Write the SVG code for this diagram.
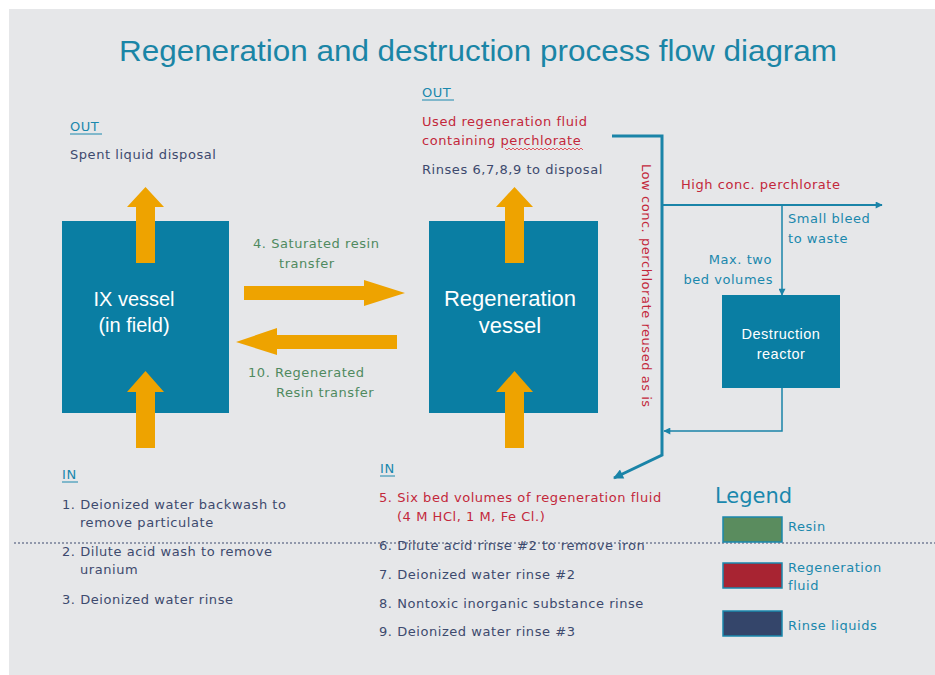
<svg xmlns="http://www.w3.org/2000/svg" width="935" height="675" viewBox="0 0 935 675">
<defs>
<style>
.t{font-family:"DejaVu Sans","Liberation Sans",sans-serif;font-size:13px;letter-spacing:0.55px}
.dark{fill:#3d4a6e}
.red{fill:#c3283b}
.teal{fill:#1a88ad}
.green{fill:#4f8a5f}
.wh{fill:#ffffff;font-family:"Liberation Sans",Arial,sans-serif}
.box{fill:#0a7ea3}
.arr{fill:#eea300}
.ln{fill:none;stroke:#1a84a8}
</style>
<marker id="ah" viewBox="0 0 10 10" refX="9" refY="5" markerWidth="8" markerHeight="7" orient="auto" markerUnits="userSpaceOnUse">
<path d="M0,0 L10,5 L0,10 z" fill="#1a84a8"/>
</marker>
<marker id="ahb" viewBox="0 0 10 10" refX="9" refY="5" markerWidth="13" markerHeight="10" orient="auto" markerUnits="userSpaceOnUse">
<path d="M0,0 L10,5 L0,10 z" fill="#1a84a8"/>
</marker>
</defs>
<rect x="0" y="0" width="935" height="675" fill="#ffffff"/>
<rect x="9" y="9" width="926" height="666" fill="#e6e7e9"/>
<text x="478" y="61" text-anchor="middle" font-family="Liberation Sans, Arial, sans-serif" font-size="29" fill="#1a85a6" textLength="718" lengthAdjust="spacingAndGlyphs">Regeneration and destruction process flow diagram</text>

<g id="ix-vessel">
<rect class="box" x="62" y="221" width="167" height="192"/>
<text class="wh" x="134" y="306" text-anchor="middle" font-size="20">IX vessel</text>
<text class="wh" x="134" y="332" text-anchor="middle" font-size="20">(in field)</text>
</g>
<g id="regen-vessel">
<rect class="box" x="429" y="221" width="169" height="192"/>
<text class="wh" x="510" y="306" text-anchor="middle" font-size="22">Regeneration</text>
<text class="wh" x="510" y="333" text-anchor="middle" font-size="22">vessel</text>
</g>
<g id="destruction-reactor">
<rect class="box" x="722" y="295" width="118" height="93"/>
<text class="wh" x="781" y="339" text-anchor="middle" font-size="14.5" letter-spacing="0.5">Destruction</text>
<text class="wh" x="781" y="359" text-anchor="middle" font-size="14.5" letter-spacing="0.5">reactor</text>
</g>

<g id="flow-arrows">
<polygon class="arr" points="136,263 136,207 127,207 145.5,187 164,207 155,207 155,263"/>
<polygon class="arr" points="136,448 136,392 127,392 145.5,371 164,392 155,392 155,448"/>
<polygon class="arr" points="505,263 505,207 496,207 514.5,187 533,207 524,207 524,263"/>
<polygon class="arr" points="505,448 505,392 496,392 514.5,371 533,392 524,392 524,448"/>
<polygon class="arr" points="244,286 364,286 364,280 405,293 364,306 364,300 244,300"/>
<polygon class="arr" points="397,335 277,335 277,328 236,342 277,355 277,349 397,349"/>
</g>

<g id="connectors">
<polyline class="ln" stroke-width="3" points="612,136 662,136 662,455 614,478" marker-end="url(#ahb)"/>
<line class="ln" stroke-width="2" x1="662" y1="205" x2="882" y2="205" marker-end="url(#ah)"/>
<line class="ln" stroke-width="1.5" x1="782" y1="205" x2="782" y2="295" marker-end="url(#ah)"/>
<polyline class="ln" stroke-width="1.5" points="782,388 782,431 664,431" marker-end="url(#ah)"/>
</g>

<g id="labels">
<text class="t teal" x="70" y="131" font-size="14">OUT</text>
<line x1="70" y1="134" x2="102" y2="134" stroke="#1a88ad" stroke-width="1"/>
<text class="t dark" x="70" y="159">Spent liquid disposal</text>

<text class="t teal" x="422" y="97" font-size="14">OUT</text>
<line x1="422" y1="100" x2="454" y2="100" stroke="#1a88ad" stroke-width="1"/>
<text class="t red" x="422" y="126">Used regeneration fluid</text>
<text class="t red" x="422" y="145">containing perchlorate</text>
<path d="M505,148 l2,2 l2,-2 l2,2 l2,-2 l2,2 l2,-2 l2,2 l2,-2 l2,2 l2,-2 l2,2 l2,-2 l2,2 l2,-2 l2,2 l2,-2 l2,2 l2,-2 l2,2 l2,-2 l2,2 l2,-2 l2,2 l2,-2 l2,2 l2,-2 l2,2 l2,-2 l2,2 l2,-2 l2,2 l2,-2 l2,2 l2,-2 l2,2 l2,-2 l2,2 l2,-2 l2,2" fill="none" stroke="#e0303a" stroke-width="0.8"/>
<text class="t dark" x="422" y="174">Rinses 6,7,8,9 to disposal</text>

<text class="t green" x="253" y="248">4.  Saturated resin</text>
<text class="t green" x="279" y="268">transfer</text>
<text class="t green" x="248" y="377">10. Regenerated</text>
<text class="t green" x="276" y="397">Resin transfer</text>

<text class="t red" transform="translate(642,164) rotate(90)">Low conc. perchlorate reused as is</text>
<text class="t red" x="681" y="189">High conc. perchlorate</text>
<text class="t teal" x="788" y="223">Small bleed</text>
<text class="t teal" x="788" y="243">to waste</text>
<text class="t teal" x="772" y="264" text-anchor="end">Max. two</text>
<text class="t teal" x="773" y="284" text-anchor="end">bed volumes</text>

<text class="t teal" x="62" y="479" font-size="13">IN</text>
<line x1="62" y1="482" x2="78" y2="482" stroke="#1a88ad" stroke-width="1"/>
<text class="t dark" x="62" y="509">1. Deionized water backwash to</text>
<text class="t dark" x="80" y="527">remove particulate</text>
<text class="t dark" x="62" y="556">2. Dilute acid wash to remove</text>
<text class="t dark" x="80" y="574">uranium</text>
<text class="t dark" x="62" y="604">3. Deionized water rinse</text>

<text class="t teal" x="380" y="473" font-size="13">IN</text>
<line x1="380" y1="476" x2="395" y2="476" stroke="#1a88ad" stroke-width="1"/>
<text class="t red" x="379" y="502">5. Six bed volumes of regeneration fluid</text>
<text class="t red" x="397" y="521">(4 M HCl, 1 M, Fe Cl.)</text>
<text class="t dark" x="379" y="550">6. Dilute acid rinse #2 to remove iron</text>
<text class="t dark" x="379" y="579">7. Deionized water rinse #2</text>
<text class="t dark" x="379" y="608">8. Nontoxic inorganic substance rinse</text>
<text class="t dark" x="379" y="636">9. Deionized water rinse #3</text>
</g>

<line x1="14" y1="543" x2="935" y2="543" stroke="#3d4a6e" stroke-width="1.2" stroke-dasharray="2,2"/>

<g id="legend">
<text x="715" y="503" font-family="DejaVu Sans, sans-serif" font-size="21" fill="#1a88ad">Legend</text>
<rect x="723" y="517" width="59" height="25" fill="#5a8c5e" stroke="#1a88ad" stroke-width="1.5"/>
<rect x="723" y="563" width="59" height="25" fill="#a82432" stroke="#1a88ad" stroke-width="1.5"/>
<rect x="723" y="611" width="59" height="25" fill="#34456a" stroke="#1a88ad" stroke-width="1.5"/>
<text class="t teal" x="788" y="531">Resin</text>
<text class="t teal" x="788" y="572">Regeneration</text>
<text class="t teal" x="788" y="590">fluid</text>
<text class="t teal" x="788" y="630">Rinse liquids</text>
</g>
</svg>
